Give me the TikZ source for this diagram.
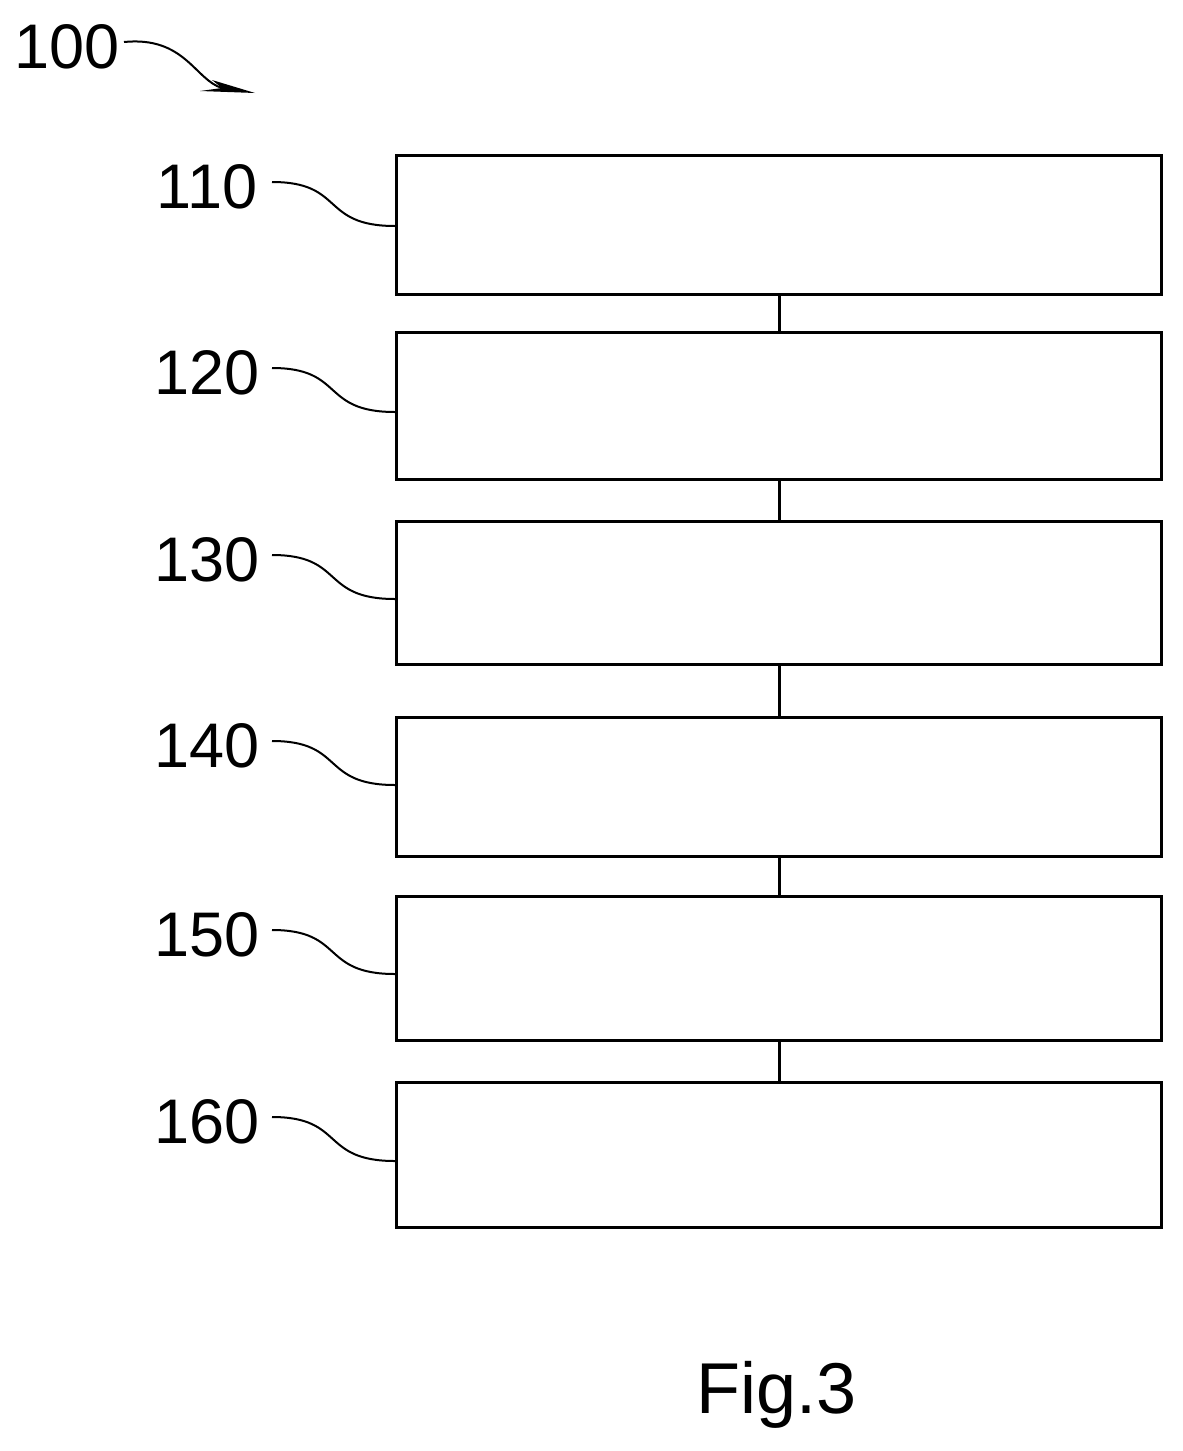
\documentclass[tikz,border=0pt]{standalone}
\usepackage{fontspec}
\setmainfont{Liberation Sans}
\begin{document}
\begin{tikzpicture}[x=1pt,y=-1pt,
  blk/.style={draw,line width=3pt,minimum width=765pt,anchor=north west,inner sep=0pt},
  lbl/.style={font=\fontsize{63}{63}\selectfont,inner sep=0pt},
  lead/.style={line width=2pt}]
\useasboundingbox (0,0) rectangle (1183,1451);
\node[lbl] (l100) at (67,47) {100};
\coordinate (a0) at (124,42);
\coordinate (a1) at (255,93);
\draw[lead] (a0) .. controls (185,36) and (195,80) .. (222,88);
\fill (200,91) -- (255,93) -- (212,80) -- (222,88) -- cycle;
\foreach \i/\t/\b/\ly in {1/154/293/187,2/331/478/373,3/520/663/560,4/716/855/746,5/895/1039/935,6/1081/1226/1122}{
  \node[blk,minimum height={\b-\t}] (b\i) at (395,\t) {};
  \node[lbl] (l\i) at (207,\ly) {1\i0};
  \coordinate (s\i) at (272,\ly-5);
  \draw[lead] (s\i) .. controls (345,\ly-5) and (320,\ly+39) .. (b\i.west |- 0,\ly+39);
}
\foreach \i/\j in {1/2,2/3,3/4,4/5,5/6}{
  \draw[line width=3pt] (b\i.south) -- (b\j.north);
}
\node[font=\fontsize{72}{72}\selectfont,inner sep=0pt] (fig) at (777,1395) {Fig.3};
\end{tikzpicture}
\end{document}
